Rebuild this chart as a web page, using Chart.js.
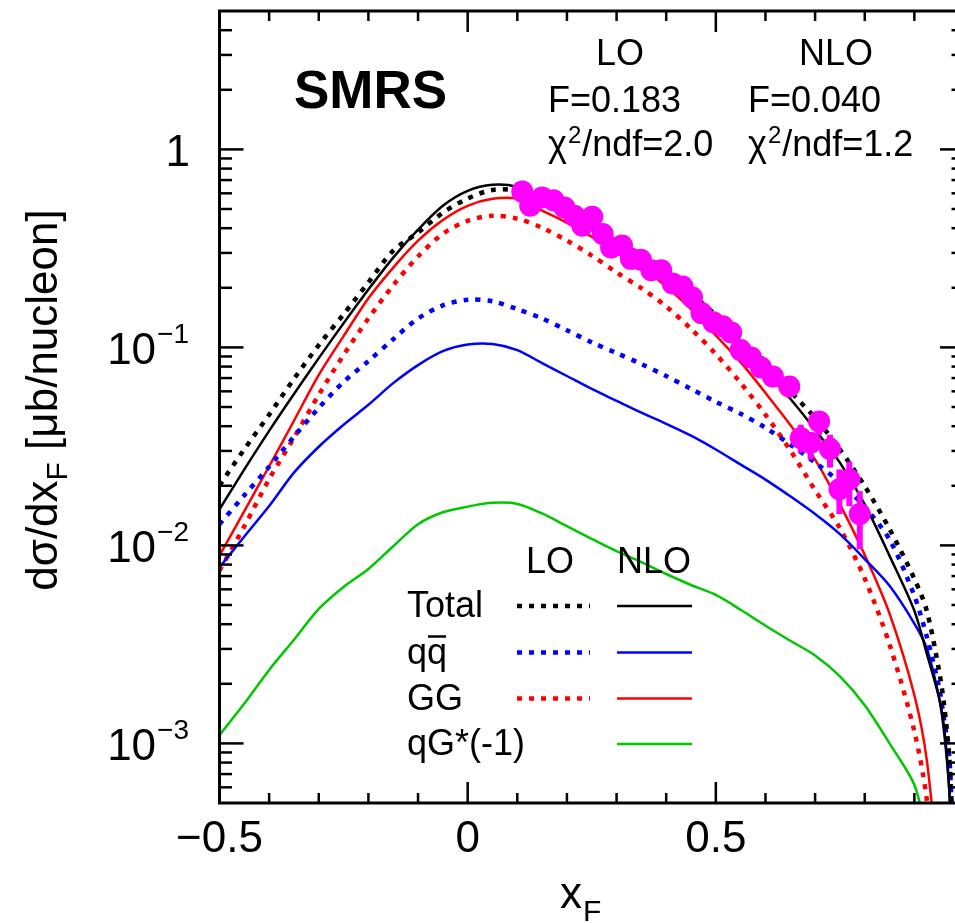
<!DOCTYPE html>
<html><head><meta charset="utf-8">
<script src="https://cdn.jsdelivr.net/npm/chart.js@4.4.0/dist/chart.umd.min.js"></script>
<style>html,body{margin:0;padding:0;background:#fff;overflow:hidden}#wrap{width:975px;height:923px}</style>
</head><body><div id="wrap"><canvas id="c" width="975" height="923"></canvas></div>
<script>
// ---- data ----
const xGrid = [-0.5,-0.45,-0.4,-0.35,-0.3,-0.25,-0.2,-0.15,-0.1,-0.05,0,0.05,0.1,0.15,0.2,0.25,0.3,0.35,0.4,0.45,0.5,0.55,0.6,0.65,0.7,0.75,0.8,0.85,0.9,0.925,0.95,0.96,0.97,0.975];
const totalNLO = [0.0152,0.0242,0.0379,0.0582,0.0883,0.1325,0.196,0.284,0.393,0.519,0.617,0.662,0.647,0.569,0.484,0.411,0.347,0.296,0.239,0.186,0.1425,0.105,0.0755,0.055,0.0384,0.0262,0.0161,0.00885,0.00468,0.00284,0.00169,0.00119,0.0006,0.0003];
const totalLO = [0.0201,0.0306,0.0457,0.0693,0.1028,0.147,0.213,0.308,0.38,0.479,0.565,0.624,0.617,0.55,0.468,0.397,0.333,0.281,0.233,0.186,0.146,0.11,0.0845,0.06,0.0441,0.0305,0.0199,0.0121,0.00678,0.00468,0.00231,0.00156,0.000873,0.0005];
const qqNLO = [0.00775,0.0111,0.0158,0.0233,0.0315,0.0407,0.0513,0.066,0.0814,0.0957,0.1033,0.104,0.0969,0.0833,0.0717,0.0617,0.0537,0.0468,0.0411,0.0358,0.0305,0.0256,0.0215,0.0177,0.0144,0.0114,0.00853,0.00625,0.00403,0.00302,0.00169,0.00113,0.000597,0.0003];
const qqLO = [0.0128,0.0179,0.025,0.0354,0.0495,0.0669,0.0853,0.110,0.140,0.163,0.174,0.171,0.156,0.140,0.122,0.106,0.0936,0.0824,0.0717,0.0617,0.0531,0.0462,0.0393,0.0323,0.0262,0.0208,0.0156,0.0107,0.00556,0.00346,0.0019,0.00131,0.000873,0.0005];
const ggNLO = [0.00889,0.0149,0.0251,0.0426,0.0726,0.114,0.177,0.253,0.346,0.44,0.519,0.563,0.563,0.49,0.426,0.362,0.305,0.255,0.203,0.156,0.115,0.0843,0.0589,0.0406,0.0271,0.0161,0.00894,0.00452,0.00175,0.000825,0.0002];
const ggLO = [0.00745,0.0125,0.0216,0.035,0.0576,0.0915,0.140,0.206,0.288,0.375,0.436,0.462,0.447,0.402,0.346,0.291,0.239,0.199,0.161,0.124,0.0925,0.0661,0.0457,0.0302,0.019,0.0122,0.0068,0.00316,0.00115,0.00052,0.00012];
const qgNLO = [0.0011,0.00159,0.00235,0.00334,0.00478,0.00617,0.0076,0.0099,0.0128,0.0147,0.0157,0.0164,0.0162,0.0145,0.0125,0.0108,0.00936,0.00824,0.00717,0.00631,0.00562,0.00473,0.00393,0.0033,0.00278,0.00218,0.00156,0.001,0.000617,0.00035];

const dataX = [0.11,0.126,0.15,0.173,0.195,0.215,0.231,0.251,0.272,0.289,0.311,0.329,0.349,0.37,0.39,0.413,0.433,0.452,0.471,0.495,0.514,0.531,0.55,0.571,0.591,0.615,0.648,0.671,0.691,0.708,0.73,0.749,0.769,0.79];
const dataY = [0.612,0.519,0.571,0.554,0.509,0.462,0.412,0.457,0.374,0.320,0.327,0.280,0.277,0.245,0.245,0.210,0.203,0.179,0.149,0.134,0.128,0.119,0.0969,0.0889,0.0792,0.0712,0.0634,0.0349,0.0330,0.0423,0.0307,0.0192,0.0215,0.0144];
const dataErrHi = [null,null,null,null,null,null,null,null,null,null,null,null,null,null,null,null,null,null,null,null,null,null,null,null,null,null,null,0.0407,0.0371,0.0475,0.0362,0.0242,0.0265,0.0188];
const dataErrLo = [null,null,null,null,null,null,null,null,null,null,null,null,null,null,null,null,null,null,null,null,null,null,null,null,null,null,null,0.0294,0.0272,0.0362,0.0247,0.0144,0.0158,0.00957];

const xMajorTicks = [-0.5,0,0.5,1.0];
const xTickLabels = ['\u22120.5','0','0.5',''];
const xMinorTicks = [-0.4,-0.3,-0.2,-0.1,0.1,0.2,0.3,0.4,0.6,0.7,0.8,0.9];
const yMajorTicks = [1e-3,1e-2,1e-1,1];
const yTickBase = ['10','10','10','1'];
const yTickExp = ['\u22123','\u22122','\u22121',''];
const yMinorTicks = [6e-4,7e-4,8e-4,9e-4,2e-3,3e-3,4e-3,5e-3,6e-3,7e-3,8e-3,9e-3,2e-2,3e-2,4e-2,5e-2,6e-2,7e-2,8e-2,9e-2,0.2,0.3,0.4,0.5,0.6,0.7,0.8,0.9,2,3,4];

const FONT = '"Liberation Sans", Arial, Helvetica, sans-serif';

function pts(ys){ return ys.map((y,i)=>({x:xGrid[i], y})); }
function curve(label, ys, color, dotted){
  return {label, data: pts(ys), showLine:true, pointRadius:0, borderColor:color, backgroundColor:color,
    borderWidth: dotted?4.5:2.5, borderDash: dotted?[5,7]:[], borderCapStyle:'butt', tension:0.3, fill:false};
}

const GREEN = '#00c800';

const decor = {
  id:'decor',
  afterDatasetsDraw(chart){
    const {ctx, scales:{x,y}} = chart;
    ctx.save();
    ctx.strokeStyle='#ff00ff'; ctx.lineWidth=6; ctx.lineCap='butt';
    dataX.forEach((xv,i)=>{
      if(dataErrHi[i]==null) return;
      const px=x.getPixelForValue(xv);
      ctx.beginPath(); ctx.moveTo(px,y.getPixelForValue(dataErrHi[i])); ctx.lineTo(px,y.getPixelForValue(dataErrLo[i])); ctx.stroke();
    });
    ctx.restore();
  },
  afterDraw(chart){
    const {ctx, chartArea:a, scales:{x,y}} = chart;
    ctx.save();
    ctx.strokeStyle='#000'; ctx.fillStyle='#000';
    // frame
    ctx.lineWidth=3;
    ctx.strokeRect(a.left, a.top, a.right-a.left, a.bottom-a.top);
    // ticks
    ctx.lineWidth=2.5;
    const tk=(x1,y1,x2,y2)=>{ctx.beginPath();ctx.moveTo(x1,y1);ctx.lineTo(x2,y2);ctx.stroke();};
    yMajorTicks.forEach(v=>{const p=y.getPixelForValue(v); tk(a.left,p,a.left+24,p); tk(a.right,p,a.right-24,p);});
    yMinorTicks.forEach(v=>{const p=y.getPixelForValue(v); tk(a.left,p,a.left+12.5,p); tk(a.right,p,a.right-12.5,p);});
    xMajorTicks.forEach(v=>{const p=x.getPixelForValue(v); tk(p,a.bottom,p,a.bottom-21); tk(p,a.top,p,a.top+21);});
    xMinorTicks.forEach(v=>{const p=x.getPixelForValue(v); tk(p,a.bottom,p,a.bottom-10); tk(p,a.top,p,a.top+10);});
    // x tick labels
    ctx.font='44px '+FONT; ctx.textAlign='center'; ctx.textBaseline='alphabetic';
    xMajorTicks.forEach((v,i)=>{ if(xTickLabels[i]) ctx.fillText(xTickLabels[i], x.getPixelForValue(v), 852); });
    // y tick labels
    ctx.textAlign='left';
    yMajorTicks.forEach((v,i)=>{
      const p=y.getPixelForValue(v);
      ctx.font='28px '+FONT; const ew=yTickExp[i]?ctx.measureText(yTickExp[i]).width:0;
      ctx.font='44px '+FONT; const bw=ctx.measureText(yTickBase[i]).width;
      const right = yTickExp[i]?188:190;
      const bx = right-ew-bw;
      ctx.fillText(yTickBase[i], bx, p+17);
      if(yTickExp[i]){ ctx.font='28px '+FONT; ctx.fillText(yTickExp[i], bx+bw+1, p-4); }
    });
    // y title
    ctx.save();
    ctx.translate(57, 400); ctx.rotate(-Math.PI/2);
    const parts=[['d\u03c3/dx',44,0],['F',30,10],[' [\u03bcb/nucleon]',44,0]];
    let W=0; parts.forEach(p=>{ctx.font=p[1]+'px '+FONT; W+=ctx.measureText(p[0]).width;});
    let cx=-W/2; ctx.textAlign='left';
    parts.forEach(p=>{ctx.font=p[1]+'px '+FONT; ctx.fillText(p[0],cx,p[2]); cx+=ctx.measureText(p[0]).width;});
    ctx.restore();
    // x title
    ctx.font='44px '+FONT; ctx.textAlign='left';
    const xw=ctx.measureText('x').width;
    ctx.fillText('x', 560, 908);
    ctx.font='30px '+FONT; ctx.fillText('F', 560+xw+1, 921);
    // annotation
    ctx.font='bold 53px '+FONT; ctx.fillText('SMRS', 294, 108);
    ctx.font='36px '+FONT; ctx.textAlign='center';
    ctx.fillText('LO', 620, 65); ctx.fillText('NLO', 836, 65);
    ctx.textAlign='left';
    ctx.fillText('F=0.183', 548, 112); ctx.fillText('F=0.040', 748, 112);
    const chi=(x0,val)=>{
      ctx.font='36px '+FONT; ctx.fillText('\u03c7',x0,156); let w=ctx.measureText('\u03c7').width;
      ctx.font='24px '+FONT; ctx.fillText('2',x0+w+1,143); let w2=ctx.measureText('2').width;
      ctx.font='36px '+FONT; ctx.fillText('/ndf='+val,x0+w+w2+2,156);
    };
    chi(548,'2.0'); chi(748,'1.2');
    // legend
    ctx.font='36px '+FONT; ctx.textAlign='center';
    ctx.fillText('LO', 550, 573); ctx.fillText('NLO', 654, 573);
    ctx.textAlign='left';
    const rows=[['Total','#000',true],['qq','#0000ff',true],['GG','#ff0000',true],['qG*(-1)',GREEN,false]];
    const bases=[617,663.5,709.5,755];
    rows.forEach((r,i)=>{
      const b=bases[i];
      ctx.fillStyle='#000'; ctx.font='36px '+FONT; ctx.fillText(r[0],407,b);
      if(i===1){ const w1=ctx.measureText('q').width; ctx.lineWidth=2.5; ctx.strokeStyle='#000';
        ctx.beginPath(); ctx.moveTo(407+w1+1,b-27); ctx.lineTo(407+2*w1-1,b-27); ctx.stroke(); }
      const ly=b-11;
      ctx.strokeStyle=r[1];
      if(r[2]){ ctx.lineWidth=4.5; ctx.setLineDash([5,7]); ctx.beginPath(); ctx.moveTo(517,ly); ctx.lineTo(590,ly); ctx.stroke(); ctx.setLineDash([]); }
      ctx.lineWidth=2.5; ctx.beginPath(); ctx.moveTo(617,ly); ctx.lineTo(692,ly); ctx.stroke();
    });
    ctx.restore();
  }
};

new Chart(document.getElementById('c'), {
  type:'scatter',
  data:{datasets:[
    {label:'Data', data: dataX.map((xv,i)=>({x:xv,y:dataY[i]})), showLine:false, pointRadius:11, pointHoverRadius:11,
      pointBackgroundColor:'#ff00ff', pointBorderColor:'#ff00ff', pointBorderWidth:0},
    curve('Total NLO', totalNLO, '#000000', false),
    curve('Total LO', totalLO, '#000000', true),
    curve('qq NLO', qqNLO, '#0000ff', false),
    curve('qq LO', qqLO, '#0000ff', true),
    curve('GG NLO', ggNLO, '#ff0000', false),
    curve('GG LO', ggLO, '#ff0000', true),
    curve('qG*(-1) NLO', qgNLO, GREEN, false)
  ]},
  options:{
    responsive:false, animation:false, devicePixelRatio:1,
    layout:{padding:{top:10,right:10,left:0,bottom:0}},
    plugins:{legend:{display:false}, tooltip:{enabled:false}},
    scales:{
      x:{type:'linear', min:-0.5, max:1.0, ticks:{display:false}, grid:{display:false}, border:{display:false},
         afterFit(s){ s.height=120; }},
      y:{type:'logarithmic', min:5e-4, max:5, ticks:{display:false}, grid:{display:false}, border:{display:false},
         afterFit(s){ s.width=219.5; }}
    }
  },
  plugins:[decor]
});
</script>
</body></html>
